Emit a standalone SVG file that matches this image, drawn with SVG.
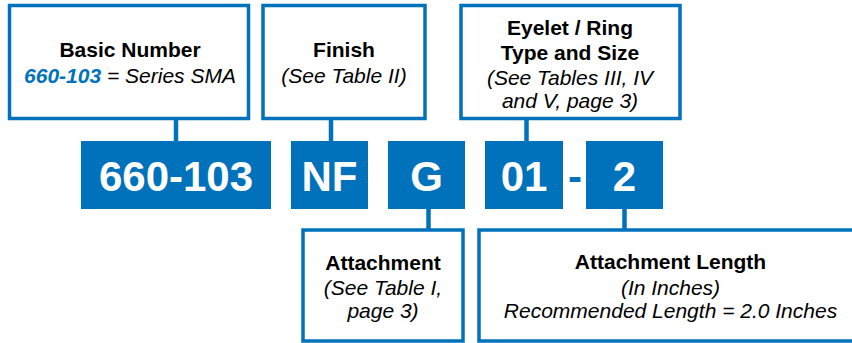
<svg xmlns="http://www.w3.org/2000/svg" width="852" height="343" viewBox="0 0 852 343">
<style>
.box{fill:#fff;stroke:#0072bc;stroke-width:3.5}
.code{fill:#0072bc}
.conn{stroke:#0072bc;stroke-width:4.5;fill:none}
text{font-family:"Liberation Sans",Arial,sans-serif;text-anchor:middle}
.t{font-size:21px;font-weight:bold;fill:#000}
.i{font-size:21px;font-style:italic;fill:#000}
.big{font-size:42px;font-weight:bold;fill:#fff}
</style>
<rect width="852" height="343" fill="#fff"/>
<g id="connectors">
<line class="conn" x1="176" y1="118" x2="176" y2="141"/>
<line class="conn" x1="331" y1="118" x2="331" y2="141"/>
<line class="conn" x1="526.5" y1="118" x2="526.5" y2="141"/>
<line class="conn" x1="428.5" y1="209" x2="428.5" y2="230"/>
<line class="conn" x1="624.5" y1="209" x2="624.5" y2="230"/>
</g>
<g id="basic-number">
<rect class="box" x="9.5" y="5.5" width="239" height="113"/>
<text class="t" x="130" y="57">Basic Number</text>
<text class="i" x="130" y="83"><tspan fill="#0072bc" font-weight="bold">660-103</tspan> = Series SMA</text>
</g>
<g id="finish">
<rect class="box" x="263" y="5.5" width="162" height="113"/>
<text class="t" x="344" y="57">Finish</text>
<text class="i" x="344" y="83">(See Table II)</text>
</g>
<g id="eyelet">
<rect class="box" x="461" y="5.5" width="219" height="113"/>
<text class="t" x="570" y="34.5">Eyelet / Ring</text>
<text class="t" x="570" y="59.5">Type and Size</text>
<text class="i" x="570" y="85">(See Tables III, IV</text>
<text class="i" x="570" y="108">and V, page 3)</text>
</g>
<g id="code-660-103">
<rect class="code" x="81" y="141" width="190" height="68"/>
<text class="big" x="176" y="191">660-103</text>
</g>
<g id="code-NF">
<rect class="code" x="291" y="141" width="77" height="68"/>
<text class="big" x="329.5" y="191">NF</text>
</g>
<g id="code-G">
<rect class="code" x="388" y="141" width="77" height="68"/>
<text class="big" x="426.5" y="191">G</text>
</g>
<g id="code-01">
<rect class="code" x="485" y="141" width="78" height="68"/>
<text class="big" x="524" y="191">01</text>
</g>
<g id="dash">
<text class="big" x="575" y="191" fill="#0072bc" style="fill:#0072bc">-</text>
</g>
<g id="code-2">
<rect class="code" x="586" y="141" width="77" height="68"/>
<text class="big" x="624.5" y="191">2</text>
</g>
<g id="attachment">
<rect class="box" x="303" y="230" width="160" height="111"/>
<text class="t" x="383" y="270">Attachment</text>
<text class="i" x="383" y="295">(See Table I,</text>
<text class="i" x="383" y="318">page 3)</text>
</g>
<g id="attachment-length">
<rect class="box" x="479" y="230" width="385" height="111"/>
<text class="t" x="670.5" y="268.5">Attachment Length</text>
<text class="i" x="670.5" y="295">(In Inches)</text>
<text class="i" x="670.5" y="318">Recommended Length = 2.0 Inches</text>
</g>
</svg>
